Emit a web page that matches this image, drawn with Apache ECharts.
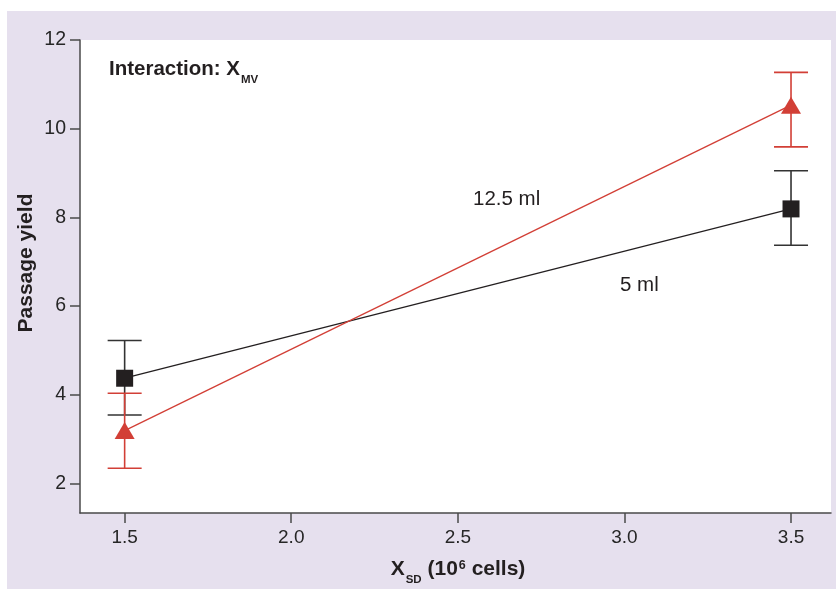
<!DOCTYPE html>
<html>
<head>
<meta charset="utf-8">
<script src="https://cdn.jsdelivr.net/npm/echarts@6/dist/echarts.min.js"></script>
<style>
  html, body { margin: 0; padding: 0; background: #ffffff; }
  #wrap { position: relative; width: 836px; height: 589px; background: #ffffff; }
  #chart { position: absolute; left: 7px; top: 11px; width: 829px; height: 578px; background: #e6e0ee; }
</style>
</head>
<body>
<div id="wrap"><div id="chart"></div></div>
<script>
// cell seeding density (10^6 cells)
const xValues = [1.5, 3.5]

// 5 ml medium volume
const mean5 = [4.37, 8.19]
const upper5 = [5.22, 9.05]
const lower5 = [3.54, 7.37]

// 12.5 ml medium volume
const mean125 = [3.19, 10.53]
const upper125 = [4.03, 11.27]
const lower125 = [2.34, 9.59]

const xTicks = [1.5, 2.0, 2.5, 3.0, 3.5]
const yTicks = [2, 4, 6, 8, 10, 12]

const RED = '#d23f36'
const BLACK = '#231f20'
const AXIS = '#4a4a4a'
const FONT = '"Liberation Sans", Arial, Helvetica, sans-serif'

const pairs = (xs, ys) => xs.map((x, i) => [x, ys[i]])
const bars = (lo, hi) => xValues.map((x, i) => [x, lo[i], hi[i]])

// error bar: vertical stem with caps
const errorBar = (color) => (params, api) => {
  const x = api.value(0)
  const top = api.coord([x, api.value(2)])
  const bottom = api.coord([x, api.value(1)])
  const half = 17
  const style = { stroke: color, lineWidth: 1.6 }
  return {
    type: 'group',
    children: [
      { type: 'line', shape: { x1: top[0], y1: top[1], x2: bottom[0], y2: bottom[1] }, style },
      { type: 'line', shape: { x1: top[0] - half, y1: top[1], x2: top[0] + half, y2: top[1] }, style },
      { type: 'line', shape: { x1: bottom[0] - half, y1: bottom[1], x2: bottom[0] + half, y2: bottom[1] }, style }
    ]
  }
}

const chart = echarts.init(document.getElementById('chart'))

const option = {
  animation: false,
  textStyle: { fontFamily: FONT },
  grid: {
    left: 73,
    top: 29,
    right: 5,
    bottom: 76,
    show: true,
    backgroundColor: '#ffffff',
    borderWidth: 0
  },
  xAxis: {
    type: 'value',
    min: 1.366,
    max: 3.62,
    axisLine: { show: true, lineStyle: { color: AXIS, width: 1.5 } },
    axisTick: { show: true, length: 10, customValues: xTicks, lineStyle: { color: AXIS, width: 1.5 } },
    axisLabel: {
      customValues: xTicks,
      formatter: v => v.toFixed(1),
      fontSize: 19,
      color: '#262626',
      margin: 15
    },
    splitLine: { show: false }
  },
  yAxis: {
    type: 'value',
    min: 1.33,
    max: 12,
    axisLine: { show: true, lineStyle: { color: AXIS, width: 1.5 } },
    axisTick: { show: true, length: 10, customValues: yTicks, lineStyle: { color: AXIS, width: 1.5 } },
    axisLabel: {
      customValues: yTicks,
      fontSize: 19.5,
      color: '#262626',
      margin: 14
    },
    splitLine: { show: false }
  },
  graphic: [
    {
      type: 'text',
      left: 102,
      top: 48,
      style: {
        text: '{b|Interaction: X}{s|MV}',
        rich: {
          b: { fontSize: 20.5, fontWeight: 'bold', fill: '#231f20', fontFamily: FONT, lineHeight: 21, verticalAlign: 'top' },
          s: { fontSize: 11.5, fontWeight: 'bold', fill: '#231f20', fontFamily: FONT, lineHeight: 11, padding: [15, 0, 0, 1], verticalAlign: 'top' }
        }
      }
    },
    {
      type: 'text',
      x: 451,
      y: 559,
      style: {
        text: '{b|X}{s|SD}{b| (10}{p|6}{b| cells)}',
        align: 'center',
        verticalAlign: 'middle',
        rich: {
          b: { fontSize: 21, fontWeight: 'bold', fill: '#231f20', fontFamily: FONT, lineHeight: 22, verticalAlign: 'top' },
          s: { fontSize: 11.5, fontWeight: 'bold', fill: '#231f20', fontFamily: FONT, lineHeight: 11, padding: [15, 0, 0, 1], verticalAlign: 'top' },
          p: { fontSize: 12.5, fontWeight: 'bold', fill: '#231f20', fontFamily: FONT, lineHeight: 12, padding: [0, 0, 0, 1], verticalAlign: 'top' }
        }
      }
    },
    {
      type: 'text',
      x: 19,
      y: 252,
      rotation: Math.PI / 2,
      style: {
        text: 'Passage yield',
        align: 'center',
        verticalAlign: 'middle',
        fontSize: 21,
        fontWeight: 'bold',
        fill: '#231f20',
        fontFamily: FONT
      }
    },
    {
      type: 'text',
      x: 466,
      y: 188,
      style: { text: '12.5 ml', verticalAlign: 'middle', fontSize: 20.5, fill: '#231f20', fontFamily: FONT }
    },
    {
      type: 'text',
      x: 613,
      y: 274,
      style: { text: '5 ml', verticalAlign: 'middle', fontSize: 20.5, fill: '#231f20', fontFamily: FONT }
    }
  ],
  series: [
    {
      name: '5 ml error',
      type: 'custom',
      renderItem: errorBar('#333333'),
      data: bars(lower5, upper5),
      encode: { x: 0, y: [1, 2] },
      z: 2
    },
    {
      name: '12.5 ml error',
      type: 'custom',
      renderItem: errorBar(RED),
      data: bars(lower125, upper125),
      encode: { x: 0, y: [1, 2] },
      z: 2
    },
    {
      name: '5 ml',
      type: 'line',
      data: pairs(xValues, mean5),
      symbol: 'rect',
      symbolSize: 17,
      itemStyle: { color: BLACK },
      lineStyle: { color: BLACK, width: 1.3 },
      z: 3
    },
    {
      name: '12.5 ml',
      type: 'line',
      data: pairs(xValues, mean125),
      symbol: 'triangle',
      symbolSize: [20, 17],
      itemStyle: { color: RED },
      lineStyle: { color: RED, width: 1.3 },
      z: 4
    }
  ]
}

chart.setOption(option)
</script>
</body>
</html>
